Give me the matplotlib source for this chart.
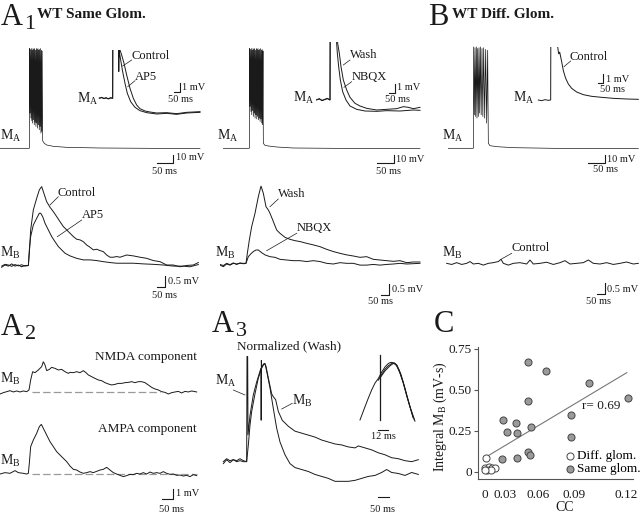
import matplotlib
matplotlib.use('Agg')
import matplotlib.pyplot as plt
import numpy as np

plt.rcParams['font.family'] = ['Liberation Serif', 'DejaVu Serif']
plt.rcParams['mathtext.fontset'] = 'custom'
plt.rcParams['mathtext.rm'] = 'Liberation Serif'
plt.rcParams['mathtext.it'] = 'Liberation Serif:italic'

W, H = 640, 516
INK = '#1a1a1a'

# ---------------- data: A1 / B, mitral cell A (t in ms, dV in mV) ----------------
ma1_pre_t = [0, 88]
ma1_pre_v = [0, 0]
ma1_burst_t = [89, 90.3, 91.5, 92.8, 94, 95.3, 96.5, 97.8, 99, 100.3, 101.5, 102.8, 104, 105.3,
               106.5, 107.8, 109, 110.3, 111.5, 112.8, 114, 115.3, 116.5, 117.8, 119, 120.3,
               121.5, 122.8, 124, 125.3, 126.5, 128]
ma1_burst_v = [120, 42, 119, 36, 120, 33, 118, 30, 120, 34, 119, 28, 120, 31, 118, 26, 120, 30,
               119, 24, 120, 28, 118, 22, 119, 26, 120, 18, 118, 20, 117, 9]
ma1_post_t = [133, 140, 160, 200, 300, 450, 600]
ma1_post_v = [6, 4, 2.4, 1.2, 0.4, 0, -0.4]

ma2_pre_t = [0, 78]
ma2_pre_v = [0, 0]
ma2_burst_t = [79, 80.3, 81.5, 82.8, 84, 85.3, 86.5, 87.8, 89, 90.3, 91.5, 92.8, 94, 95.3, 96.5,
               97.8, 99, 100.3, 101.5, 102.8, 104, 105.3, 106.5, 107.8, 109, 110.3, 111.5, 112.8,
               114, 115.3, 116.5, 117.8, 119, 120]
ma2_burst_v = [120, 50, 119, 44, 120, 40, 118, 45, 120, 38, 119, 42, 120, 36, 118, 40, 120, 35,
               119, 38, 120, 34, 118, 36, 119, 32, 120, 35, 118, 30, 119, 28, 117, 6]
ma2_post_t = [125, 135, 160, 210, 330, 590]
ma2_post_v = [3.6, 2.8, 1.6, 0.4, 0, -0.4]

ma3_pre_t = [0, 75]
ma3_pre_v = [0, 0]
ma3_burst_t = [76, 78, 80, 82, 84, 86, 88, 90, 92, 94, 96, 98.5, 101, 103.5, 106, 109, 112, 115, 118, 120]
ma3_burst_v = [122, 40, 121, 38, 122, 36, 120, 38, 121, 42, 122, 40, 120, 38, 121, 36, 119, 30, 118, 6]
ma3_post_t = [125, 145, 195, 315, 570]
ma3_post_v = [3.2, 2.0, 0.8, 0, -0.4]

# insets (mV, clipped at top)
in1_ctrl_t = [0, 21, 42, 60, 81, 102, 120, 121.5, 183, 186, 201, 222, 246, 276, 306, 336, 366,
              411, 456, 516, 606, 696, 786, 906]
in1_ctrl_v = [0, 0.12, -0.04, 0.08, -0.08, 0.04, 0, 8, 8, 5.8, 5.2, 4.2, 2.8, 1.2, 0, -0.8, -1.24,
              -1.52, -1.64, -1.76, -1.72, -1.84, -1.68, -1.6]
in1_ap5_t = [0, 21, 42, 60, 81, 102, 120, 121.5, 174, 175, 177, 180, 192, 210, 231, 252, 282, 321,
             366, 426, 516, 606, 696, 786, 906]
in1_ap5_v = [0.04, 0.08, 0, 0.04, -0.04, 0.08, 0, 8, 8, 3.2, 5.8, 5.6, 4.6, 3.2, 1.8, 0.6, -0.4,
             -1.08, -1.48, -1.72, -1.88, -1.8, -1.92, -1.76, -1.68]

in2_wash_t = [0, 24, 48, 72, 96, 120, 121.5, 187, 189, 204, 219, 240, 270, 300, 345, 390, 450, 540,
              630, 720, 780, 825, 870, 930]
in2_wash_v = [0, 0.16, -0.08, 0.08, 0.2, 0, 8, 8, 6.8, 5.6, 4.0, 2.4, 1.2, 0.32, -0.4, -0.72, -1.0,
              -1.2, -1.12, -1.04, -0.8, -0.88, -1.04, -0.88]
in2_nbqx_t = [0, 24, 48, 72, 96, 120, 121.5, 178, 180, 186, 198, 213, 234, 264, 300, 360, 435, 540,
              630, 750, 870, 930]
in2_nbqx_v = [0.04, 0.12, -0.04, 0.04, 0.16, 0, 8, 8, 6.8, 5.6, 4.0, 2.4, 1.0, 0, -0.72, -1.12,
              -1.32, -1.36, -1.28, -1.32, -1.2, -1.24]

in3_ctrl_t = [0, 30, 60, 90, 111, 112.5, 171, 174, 183, 192, 210, 225, 246, 270, 300, 345, 405,
              480, 570, 675, 795, 900]
in3_ctrl_v = [0, -0.08, 0.04, -0.04, 0, 8, 8, 6.4, 5.52, 5.76, 4.6, 3.52, 2.6, 1.92, 1.4, 0.96,
              0.64, 0.44, 0.32, 0.2, 0.12, 0.08]

# ---------------- data: mitral cell B responses (mV) ----------------
mb1_ctrl_t = [10, 30, 50, 70, 90, 110, 130, 150, 170, 176, 184, 200, 220, 236, 250, 260, 280, 300,
              320, 340, 360, 380, 400, 420, 440, 460, 480, 500, 520, 540, 560, 580, 600, 620, 640,
              660, 680, 700, 720, 760, 800, 840, 880, 920, 960, 1000, 1040, 1080, 1120, 1160, 1190]
mb1_ctrl_v = [-0.1, 0, -0.05, 0.05, -0.05, 0, -0.08, -0.02, -0.03, 0.53, 1.58, 2.48, 3.0, 3.38,
              3.53, 3.3, 2.85, 2.6, 2.4, 2.18, 1.95, 1.73, 1.58, 1.43, 1.28, 1.16, 1.13, 1.05, 0.9,
              0.8, 0.68, 0.71, 0.65, 0.6, 0.45, 0.35, 0.35, 0.38, 0.35, 0.45, 0.41, 0.35, 0.3, 0.2,
              0.15, 0, 0, -0.08, -0.02, 0, 0.11]
mb1_ap5_t = [10, 30, 50, 70, 90, 110, 130, 150, 170, 176, 184, 200, 220, 236, 244, 256, 270, 290,
             310, 330, 350, 370, 390, 420, 460, 500, 540, 580, 620, 660, 700, 740, 800, 860, 920,
             980, 1040, 1100, 1140, 1190]
mb1_ap5_v = [-0.05, 0.03, 0, -0.06, 0.02, -0.04, 0.01, -0.05, -0.02, 0.68, 1.28, 1.8, 2.1, 2.33,
             2.33, 2.18, 1.88, 1.58, 1.28, 1.05, 0.83, 0.68, 0.53, 0.41, 0.3, 0.23, 0.23, 0.2,
             0.15, 0.11, 0.08, 0.08, 0.08, 0.05, 0.03, 0, -0.05, -0.05, -0.08, 0.02]

mb2_wash_t = [0, 20, 40, 60, 80, 100, 120, 140, 156, 164, 176, 190, 210, 230, 246, 260, 276, 290,
              300, 320, 340, 360, 390, 420, 450, 480, 520, 560, 600, 640, 680, 720, 760, 800, 840,
              880, 920, 960, 1000, 1040, 1080, 1120, 1160, 1200]
mb2_wash_v = [-0.08, -0.15, -0.03, -0.08, 0, -0.03, 0, 0, 0, 0.45, 1.05, 1.65, 2.25, 3.0, 3.48,
              3.15, 2.55, 2.4, 2.25, 1.88, 1.5, 1.35, 1.17, 1.08, 1.02, 0.98, 0.9, 0.83, 0.75,
              0.63, 0.53, 0.45, 0.38, 0.33, 0.27, 0.3, 0.18, 0.15, 0.12, 0.09, 0.12, 0.03, 0.06, 0.06]
mb2_nbqx_t = [0, 20, 40, 60, 80, 100, 120, 140, 156, 170, 184, 200, 216, 230, 250, 270, 300, 330,
              360, 400, 440, 480, 520, 560, 600, 640, 680, 720, 760, 800, 840, 880, 920, 960, 1000,
              1040, 1080, 1120, 1200]
mb2_nbqx_v = [-0.05, -0.1, 0, -0.06, 0.02, -0.05, 0.02, -0.02, 0, 0.3, 0.42, 0.53, 0.6, 0.6, 0.48,
              0.38, 0.3, 0.27, 0.18, 0.15, 0.12, 0.12, 0.08, 0.12, 0.08, 0, -0.03, 0.03, 0, 0,
              -0.08, -0.08, -0.05, -0.08, -0.05, -0.03, 0, -0.03, 0]

mb3_t = [0, 30, 60, 90, 120, 140, 160, 190, 220, 250, 280, 310, 326, 340, 370, 400, 440, 480, 500,
         520, 560, 600, 640, 680, 710, 740, 780, 820, 850, 880, 920, 960, 1000, 1040, 1080, 1120, 1150]
mb3_v = [0, -0.05, 0.03, -0.05, 0, 0.08, -0.03, 0, -0.08, 0, 0.03, 0.08, 0.18, 0, -0.08, 0, 0.03,
         -0.03, 0.15, -0.03, 0, 0.05, -0.05, 0.03, 0.12, -0.03, 0, 0.03, 0.15, 0, -0.03, 0.03,
         -0.05, 0, 0.06, -0.03, 0]

# ---------------- data: A2 components (mV) ----------------
nmda_t = [0, 15, 30, 45, 60, 75, 90, 105, 120, 130.5, 138, 147, 157.5, 172.5, 187.5, 195, 202.5,
          210, 222, 232.5, 247.5, 262.5, 277.5, 292.5, 307.5, 315, 330, 345, 360, 375, 387, 397.5,
          412.5, 427.5, 442.5, 457.5, 472.5, 487.5, 502.5, 517.5, 532.5, 547.5, 562.5, 577.5,
          592.5, 607.5, 622.5, 637.5, 652.5, 667.5, 682.5, 697.5, 712.5, 727.5, 742.5, 757.5,
          772.5, 787.5, 802.5, 817.5, 832.5, 847.5, 862.5, 885]
nmda_v = [-0.23, -0.1, 0, 0.1, -0.03, 0.07, -0.03, 0.07, 0, 0.17, 1.17, 2.0, 1.9, 2.17, 2.5, 3.0,
          2.67, 2.1, 2.23, 2.43, 2.33, 2.17, 2.23, 2.0, 1.83, 1.93, 1.9, 2.0, 1.9, 2.1, 1.9, 1.67,
          1.5, 1.33, 1.17, 1.1, 0.9, 0.77, 0.67, 0.73, 0.83, 0.83, 0.9, 0.93, 1.0, 0.9, 1.0, 1.0,
          0.9, 0.67, 0.43, 0.27, 0.17, 0, -0.07, -0.23, -0.1, -0.03, 0.03, -0.13, 0.03, -0.03,
          0.07, -0.03]
ampa_t = [0, 22.5, 45, 67.5, 82.5, 105, 120, 127.5, 132, 138, 150, 165, 177, 186, 195, 210, 225,
          240, 255, 270, 285, 300, 315, 330, 345, 360, 375, 390, 405, 420, 435, 450, 465, 480, 495,
          510, 525, 540, 555, 570, 585, 600, 615, 630, 645, 660, 675, 690, 705, 720, 735, 750,
          765, 780, 795, 810, 825, 840, 855, 870, 885]
ampa_v = [0.03, 0.17, 0.1, 0.37, 0.17, 0.1, 0.03, 0.1, 1.1, 2.77, 3.43, 4.1, 4.77, 5.0, 4.6, 3.93,
          3.27, 2.77, 2.27, 1.93, 1.6, 1.27, 0.83, 0.5, 0.43, 0.23, 0.1, 0.17, 0.27, 0.17, 0.3,
          0.43, 0.5, 0.7, 0.43, 0.17, 0.03, -0.1, -0.23, -0.13, 0, -0.03, 0.1, 0.03, 0.17, 0.03,
          0.23, 0.1, 0.17, 0.1, 0.27, 0.1, 0, 0.03, -0.1, -0.07, -0.17, -0.1, -0.23, -0.03, -0.13]

# ---------------- data: A3 normalized (Wash) ----------------
norm_ma_t = [0, 15, 30, 45, 60, 75, 90, 105, 106.5, 109.5, 111, 120, 135, 150, 165, 169.5, 170.25,
             171, 172.5, 180, 187.5, 195, 210, 225, 240, 255, 277.5, 300, 322.5, 352.5, 382.5,
             412.5, 442.5, 472.5, 502.5, 532.5, 562.5, 592.5, 622.5, 652.5, 682.5, 712.5, 735,
             757.5, 787.5, 817.5, 847.5, 877.5]
norm_ma_a = [0, 0.03, 0.01, 0.02, 0, 0.01, 0, 0, 1.07, 1.07, 0.27, 0.47, 0.68, 0.81, 0.92, 0.95,
             0.42, 1.03, 0.96, 0.99, 1.0, 0.92, 0.75, 0.54, 0.34, 0.2, 0.07, -0.02, -0.06, -0.08,
             -0.1, -0.13, -0.15, -0.17, -0.2, -0.2, -0.2, -0.19, -0.17, -0.15, -0.14, -0.11,
             -0.08, -0.11, -0.12, -0.14, -0.11, -0.13]
norm_mb_t = [0, 15, 30, 45, 60, 75, 90, 105, 112.5, 120, 127.5, 142.5, 157.5, 172.5, 184.5, 192,
             202.5, 217.5, 225, 235.5, 247.5, 265.5, 292.5, 322.5, 352.5, 382.5, 412.5, 442.5,
             472.5, 502.5, 532.5, 562.5, 592.5, 607.5, 637.5, 667.5, 697.5, 727.5, 757.5, 787.5,
             817.5, 847.5, 877.5]
norm_mb_a = [-0.02, 0.02, -0.01, 0.02, 0.01, 0.03, 0.01, 0, 0.17, 0.37, 0.51, 0.69, 0.85, 0.95,
             1.0, 0.97, 0.85, 0.69, 0.66, 0.63, 0.51, 0.42, 0.36, 0.31, 0.29, 0.27, 0.25, 0.22,
             0.2, 0.18, 0.17, 0.15, 0.14, 0.16, 0.14, 0.12, 0.09, 0.07, 0.04, 0.03, 0.01, 0, 0.02]
zoom1_t = [0, 5.2, 10, 14, 18, 22, 26, 30, 34, 37.2, 40.4, 44, 48, 52, 56, 60, 64, 66]
zoom1_a = [0, 0.2, 0.38, 0.52, 0.64, 0.72, 0.83, 0.92, 0.98, 1.0, 0.99, 0.94, 0.81, 0.64, 0.43,
           0.23, 0.06, -0.02]
zoom2_t = [22, 26, 30, 34, 38, 41.2, 44.4, 49.2, 54, 58.8, 63.6]
zoom2_a = [0.69, 0.79, 0.88, 0.94, 0.98, 0.99, 0.95, 0.79, 0.55, 0.29, 0.04]
zoom3_t = [24, 30, 36, 40, 42.8, 46.8, 51.6, 56.4, 61.2, 65.2]
zoom3_a = [0.73, 0.85, 0.94, 0.98, 0.97, 0.87, 0.66, 0.4, 0.17, 0]
zoom_spike_t = [24, 24]
zoom_spike_a = [0, 1.13]

# ---------------- data: C scatter ----------------
same_cc = [0.0509, 0.0661, 0.0987, 0.1213, 0.0504, 0.0872, 0.0275, 0.0399, 0.0315, 0.0409,
           0.0531, 0.0872, 0.0509, 0.0527, 0.0256, 0.0406]
same_int = [0.672, 0.614, 0.540, 0.449, 0.430, 0.345, 0.316, 0.296, 0.245, 0.238, 0.271, 0.210,
            0.120, 0.104, 0.076, 0.084]
diff_cc = [0.002, 0.001, 0.007, 0.011, 0.016, 0.003, 0.009, 0.0]
diff_int = [0.082, 0.024, 0.031, 0.021, 0.021, 0.010, 0.010, 0.008]
fit_cc = [0.0032, 0.1204]
fit_int = [0.092, 0.605]
cc_ticks = [0, 0.03, 0.06, 0.09, 0.12]
int_ticks = [0, 0.25, 0.50, 0.75]

# ---------------- figure ----------------
fig = plt.figure(figsize=(6.4, 5.16), dpi=100)
over = fig.add_axes([0, 0, 1, 1])
over.set_xlim(0, W)
over.set_ylim(H, 0)
over.axis('off')


def trace_axes(left, top, width, height, t0, ms_px, v0, mv_px):
    ax = fig.add_axes([left / W, 1 - (top + height) / H, width / W, height / H])
    ax.set_xlim(t0, t0 + width * ms_px)
    ax.set_ylim(v0, v0 + height * mv_px)
    ax.axis('off')
    return ax


def trace(ax, t, v, lw=0.7, **kw):
    ax.plot(t, v, color=INK, lw=lw, solid_joinstyle='miter', **kw)


def scalebar(ax, t_end, v_low, dt, dv):
    ax.plot([t_end - dt, t_end, t_end], [v_low, v_low, v_low + dv], color=INK, lw=0.8,
            clip_on=False)


def txt(x, y, s, size=9, **kw):
    kw.setdefault('va', 'center')
    over.text(x, y, s, fontsize=size, color=INK, **kw)


def leader(x1, y1, x2, y2):
    over.plot([x1, x2], [y1, y2], color=INK, lw=0.5)


MA = r'M$_\mathrm{A}$'
MB = r'M$_\mathrm{B}$'

# panel letters and titles
txt(1, 25, 'A', 22, va='baseline')
txt(24.5, 29, '1', 16, va='baseline')
txt(37, 18, 'WT Same Glom.', 11, va='baseline', fontweight='bold')
txt(428, 25, 'B', 22, va='baseline')
txt(452, 18, 'WT Diff. Glom.', 11, va='baseline', fontweight='bold')
txt(1, 335, 'A', 22, va='baseline')
txt(24.5, 339, '2', 16, va='baseline')
txt(212, 332, 'A', 22, va='baseline')
txt(235.5, 336, '3', 16, va='baseline')
txt(434, 332, 'C', 22, va='baseline')

# --- A1 left: MA main trace
ax = trace_axes(0, 40, 205, 130, 0, 3, -26, 1.2)
trace(ax, ma1_pre_t + ma1_burst_t + ma1_post_t, ma1_pre_v + ma1_burst_v + ma1_post_v, lw=0.5)
scalebar(ax, 520, -18, 50, 10)
txt(0, 140, MA, 10, va='baseline')
txt(176, 158, '10 mV', 7.5)
txt(165, 171.7, '50 ms', 7.5, ha='center')

ax = trace_axes(97, 50, 105, 65, -21, 9, -2.0, 0.12)
trace(ax, in1_ctrl_t, in1_ctrl_v)
trace(ax, in1_ap5_t, in1_ap5_v)
scalebar(ax, 726, 0.8, 50, 1)
txt(77, 103.3, MA, 10, va='baseline')
txt(182, 87.5, '1 mV', 7.5)
txt(180, 99, '50 ms', 7.5, ha='center')
txt(131.7, 55.7, 'Control', 9)
txt(135, 76.7, 'AP5', 9)
leader(131.7, 60, 122.7, 66)
leader(135, 80.7, 127.7, 86.7)

ax = trace_axes(0, 180, 205, 120, 0, 6, -1.575, 0.045)
trace(ax, mb1_ctrl_t, mb1_ctrl_v)
trace(ax, mb1_ap5_t, mb1_ap5_v)
scalebar(ax, 990, -0.975, 50, 0.5)
txt(0, 257.3, MB, 10, va='baseline')
txt(168, 281, '0.5 mV', 7.5)
txt(165, 296, '50 ms', 7.5, ha='center')
txt(57.3, 193.3, 'Control', 9)
txt(81.7, 215, 'AP5', 9)
leader(58.3, 196.7, 50, 205)
leader(81.7, 220, 57.3, 236.7)

# --- A1 middle: wash / NBQX
ax = trace_axes(220, 40, 205, 130, -10, 3, -26, 1.2)
trace(ax, ma2_pre_t + ma2_burst_t + ma2_post_t, ma2_pre_v + ma2_burst_v + ma2_post_v, lw=0.5)
scalebar(ax, 512, -18, 50, 10)
txt(216.7, 140, MA, 10, va='baseline')
txt(396, 159.5, '10 mV', 7.5)
txt(389, 171, '50 ms', 7.5, ha='center')

ax = trace_axes(314, 42, 108, 73, -24, 9, -1.8, 0.12)
trace(ax, in2_wash_t, in2_wash_v)
trace(ax, in2_nbqx_t, in2_nbqx_v)
scalebar(ax, 705, 0.88, 50, 1)
txt(293.3, 101.7, MA, 10, va='baseline')
txt(397, 87.5, '1 mV', 7.5)
txt(397.5, 99.3, '50 ms', 7.5, ha='center')
txt(350, 55, 'Wash', 9)
txt(351.7, 77.3, 'NBQX', 9)
leader(350, 60, 343.3, 65)
leader(351.7, 81.7, 344, 87.3)

ax = trace_axes(220, 180, 205, 120, 0, 6, -1.65, 0.045)
trace(ax, mb2_wash_t, mb2_wash_v)
trace(ax, mb2_nbqx_t, mb2_nbqx_v)
scalebar(ax, 1016, -1.425, 50, 0.5)
txt(215, 256.7, MB, 10, va='baseline')
txt(392, 290, '0.5 mV', 7.5)
txt(380.5, 302, '50 ms', 7.5, ha='center')
txt(278.3, 194.3, 'Wash', 9)
txt(296.7, 227.7, 'NBQX', 9)
leader(278.3, 199, 270, 206.7)
leader(296.7, 233.3, 266.7, 250.7)

# --- B: different glomerulus
ax = trace_axes(440, 40, 200, 130, -25, 3, -26, 1.2)
trace(ax, ma3_pre_t + ma3_burst_t + ma3_post_t, ma3_pre_v + ma3_burst_v + ma3_post_v, lw=0.5)
scalebar(ax, 470, -18, 50, 10)
txt(441.7, 140, MA, 10, va='baseline')
txt(607, 160, '10 mV', 7.5)
txt(605.8, 169.5, '50 ms', 7.5, ha='center')

ax = trace_axes(536, 46.7, 104, 68.3, -21, 9, -1.8, 0.12)
trace(ax, in3_ctrl_t, in3_ctrl_v)
scalebar(ax, 585, 2.08, 50, 1)
txt(513, 101.7, MA, 10, va='baseline')
txt(606, 79.7, '1 mV', 7.5)
txt(613, 89.3, '50 ms', 7.5, ha='center')
txt(570, 56.7, 'Control', 9)
leader(570.7, 61, 564, 66.7)

ax = trace_axes(445, 180, 195, 120, -10, 6, -1.65, 0.045)
trace(ax, mb3_t, mb3_v)
scalebar(ax, 950, -1.38, 50, 0.5)
txt(441.7, 256.7, MB, 10, va='baseline')
txt(607, 289.7, '0.5 mV', 7.5)
txt(599, 302, '50 ms', 7.5, ha='center')
txt(511.7, 248.3, 'Control', 9)
leader(511.7, 253.3, 501, 259.3)

# --- A2: NMDA and AMPA components
ax = trace_axes(0, 355, 200, 45, 0, 4.5, -0.833, 0.1)
ax.plot([142.5, 720], [0, 0], color='#999999', lw=0.9, ls=(0, (6, 2.5)))
trace(ax, nmda_t, nmda_v)
txt(0, 383.3, MB, 10, va='baseline')
txt(196.7, 360, 'NMDA component', 9.5, va='baseline', ha='right')

ax = trace_axes(0, 420, 200, 62, 0, 4.5, -0.767, 0.1)
ax.plot([142.5, 885], [0, 0], color='#999999', lw=0.9, ls=(0, (6, 2.5)))
trace(ax, ampa_t, ampa_v)
scalebar(ax, 780, -2.5, 50, 1)
txt(0, 465, MB, 10, va='baseline')
txt(196.7, 431.7, 'AMPA component', 9.5, va='baseline', ha='right')
txt(176, 493, '1 mV', 7.5)
txt(171.7, 509, '50 ms', 7.5, ha='center')

# --- A3: normalized traces
ax = trace_axes(220, 350, 200, 135, -15, 4.5, -0.2373, 0.010169)
trace(ax, norm_ma_t, norm_ma_a)
trace(ax, norm_mb_t, norm_mb_a)
ax.plot([695, 745], [-0.36, -0.36], color=INK, lw=0.8, clip_on=False)
txt(237.3, 349.3, 'Normalized (Wash)', 9.5, va='baseline')
txt(215, 385, MA, 10, va='baseline')
txt(292.3, 405, MB, 10, va='baseline')
leader(233.3, 390, 245, 395)
leader(292.3, 403.3, 281.7, 409)
txt(383, 509, '50 ms', 7.5, ha='center')

ax = trace_axes(358, 350, 70, 75, -2.4, 1.2, -0.087, 0.01734)
trace(ax, zoom1_t, zoom1_a)
trace(ax, zoom2_t, zoom2_a)
trace(ax, zoom3_t, zoom3_a)
trace(ax, zoom_spike_t, zoom_spike_a, lw=0.9)
ax.plot([22, 34], [-0.17, -0.17], color=INK, lw=0.8, clip_on=False)
txt(383, 436.5, '12 ms', 7.5, ha='center')

# --- C: scatter
cc_knots = [-0.0095, 0, 0.03, 0.06, 0.09, 0.12, 0.13]
px_knots = [0, 6.5, 27, 60.5, 96, 148, 165.3]
axc = fig.add_axes([478 / W, 1 - 479 / H, 155 / W, 132 / H])
axc.set_xscale('function', functions=(lambda x: np.interp(x, cc_knots, px_knots),
                                      lambda s: np.interp(s, px_knots, cc_knots)))
axc.set_xlim(-0.0095, 0.124)
axc.set_ylim(-0.045, 0.762)
axc.patch.set_alpha(0)
axc.plot(fit_cc, fit_int, color='#777777', lw=0.8)
h_diff = axc.scatter(diff_cc, diff_int, s=26, facecolor='white', edgecolor='#444444', lw=0.7,
                     zorder=3, label='Diff. glom.')
h_same = axc.scatter(same_cc, same_int, s=26, facecolor='#9a9a9a', edgecolor='#444444', lw=0.7,
                     zorder=3, label='Same glom.')
for side in ('top', 'right'):
    axc.spines[side].set_visible(False)
for side in ('left', 'bottom'):
    axc.spines[side].set_color('#555555')
    axc.spines[side].set_linewidth(0.8)
axc.set_xticks(cc_ticks)
axc.set_xticklabels(['0', '0.03', '0.06', '0.09', '0.12'])
axc.set_yticks(int_ticks)
axc.set_yticklabels(['0', '0.25', '0.50', '0.75'])
axc.minorticks_off()
axc.tick_params(axis='y', length=3, width=0.8, color='#555555', pad=1.5, labelsize=9.5,
                labelcolor=INK)
axc.tick_params(axis='x', length=0, pad=7, labelsize=9.5, labelcolor=INK)
axc.set_ylabel('Integral ' + MB + ' (mV-s)', fontsize=10, color=INK)
axc.yaxis.set_label_coords(-0.19, 0.47)
axc.set_xlabel('CC', fontsize=10, color=INK)
axc.xaxis.set_label_coords(0.561, -0.165)
axc.legend(handles=[h_diff, h_same], loc='lower right', bbox_to_anchor=(1.05, 0.03),
           frameon=False, fontsize=9.5, handletextpad=0.05, labelspacing=0.05, borderpad=0,
           borderaxespad=0, handlelength=1.0)
txt(581.7, 409.3, 'r= 0.69', 9.5, va='baseline')

fig.savefig('out.png', dpi=100)
